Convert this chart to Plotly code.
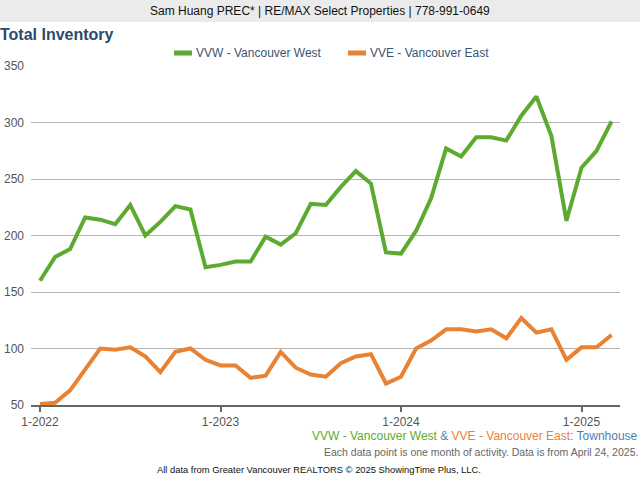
import plotly.graph_objects as go

# ---- data ----
months = list(range(39))  # Jan 2022 .. Mar 2025
tick_months = [0, 12, 24, 36]
tick_labels = ["1-2022", "1-2023", "1-2024", "1-2025"]
y_ticks = [50, 100, 150, 200, 250, 300, 350]
series_names = ["VVW - Vancouver West", "VVE - Vancouver East"]

vvw = [160, 181, 188, 216, 214, 210, 227, 200, 212, 226,
       223, 172, 174, 177, 177, 199, 192, 202, 228, 227,
       243, 257, 246, 185, 184, 204, 233, 277, 270, 287,
       287, 284, 306, 323, 288, 213, 260, 275, 301]
vve = [51, 52, 63, 81, 100, 99, 101, 93, 79, 97,
       100, 90, 85, 85, 74, 76, 97, 83, 77, 75,
       87, 93, 95, 69, 75, 100, 107, 117, 117, 115,
       117, 109, 127, 114, 117, 90, 101, 101, 112]

GREEN = "#5daa30"
ORANGE = "#ea8234"
TITLE = "#2b4a6c"
BLUE = "#4f7fb5"
LEG = "#3a5575"

W, H = 640, 480
L, R, T, B = 31, 20, 66, 75
PW, PH = W - L - R, H - T - B


def xp(px):
    return (px - L) / PW


def yp(py):
    return (H - B - py) / PH


fig = go.Figure()
fig.add_trace(go.Scatter(x=months, y=vvw, mode="lines", name=series_names[0],
                         line=dict(color=GREEN, width=4)))
fig.add_trace(go.Scatter(x=months, y=vve, mode="lines", name=series_names[1],
                         line=dict(color=ORANGE, width=4)))

font = "Liberation Sans, Arial, sans-serif"

fig.update_layout(
    width=W, height=H,
    margin=dict(l=L, r=R, t=T, b=B, pad=0, autoexpand=False),
    paper_bgcolor="white", plot_bgcolor="white",
    font=dict(family=font, size=12, color="#555555"),
    showlegend=False,
    xaxis=dict(range=[-0.6, 38.56], tickvals=tick_months, ticktext=tick_labels,
               showgrid=False, zeroline=False, showline=True, linecolor="#666666",
               linewidth=2, ticks="outside", ticklen=5, tickwidth=2, tickcolor="#666666",
               tickfont=dict(size=12, color="#555555"), fixedrange=True, automargin=False),
    yaxis=dict(range=[50, 350], tickvals=y_ticks, showgrid=True, gridcolor="#b4b4b4",
               gridwidth=1, zeroline=False, showline=False, ticks="",
               ticklabelstandoff=6, automargin=False,
               tickfont=dict(size=12, color="#555555"), fixedrange=True),
)

# header band
fig.add_shape(type="rect", xref="paper", yref="paper", x0=xp(0), x1=xp(W),
              y0=yp(22), y1=yp(0), fillcolor="#ebebeb", line=dict(width=0), layer="below")

# legend (drawn manually for compact swatches)
for (sx, tx, col, name) in [(174, 194, GREEN, series_names[0]), (348, 368, ORANGE, series_names[1])]:
    fig.add_shape(type="line", xref="paper", yref="paper", x0=xp(sx), x1=xp(sx + 18),
                  y0=yp(53), y1=yp(53), line=dict(color=col, width=5))
    fig.add_annotation(xref="paper", yref="paper", showarrow=False, text=name,
                       x=xp(tx), y=yp(53), xanchor="left", yanchor="middle",
                       font=dict(size=12, color=LEG))

annots = [
    dict(text="Sam Huang PREC* | RE/MAX Select Properties | 778-991-0649",
         x=xp(320), y=yp(11), xanchor="center", yanchor="middle",
         font=dict(size=12, color="#111111")),
    dict(text="<b>Total Inventory</b>", x=xp(-2), y=yp(35), xanchor="left", yanchor="middle",
         font=dict(size=16, color=TITLE)),
    dict(text=(f'<span style="color:{GREEN}">VVW - Vancouver West</span>'
               f'<span style="color:{BLUE}"> &amp; </span>'
               f'<span style="color:{ORANGE}">VVE - Vancouver East</span>'
               f'<span style="color:{BLUE}">: Townhouse</span>'),
         x=xp(640), y=yp(436), xanchor="right", yanchor="middle",
         font=dict(size=12)),
    dict(text="Each data point is one month of activity. Data is from April 24, 2025.",
         x=xp(640), y=yp(452), xanchor="right", yanchor="middle",
         font=dict(size=10.5, color="#666666")),
    dict(text="All data from Greater Vancouver REALTORS © 2025 ShowingTime Plus, LLC.",
         x=xp(319), y=yp(469), xanchor="center", yanchor="middle",
         font=dict(size=9.4, color="#111111")),
]
for a in annots:
    fig.add_annotation(xref="paper", yref="paper", showarrow=False, **a)

fig.write_html("out.html", config={"displayModeBar": False},
               post_script="document.body.style.margin='0';document.body.style.overflow='hidden';")
